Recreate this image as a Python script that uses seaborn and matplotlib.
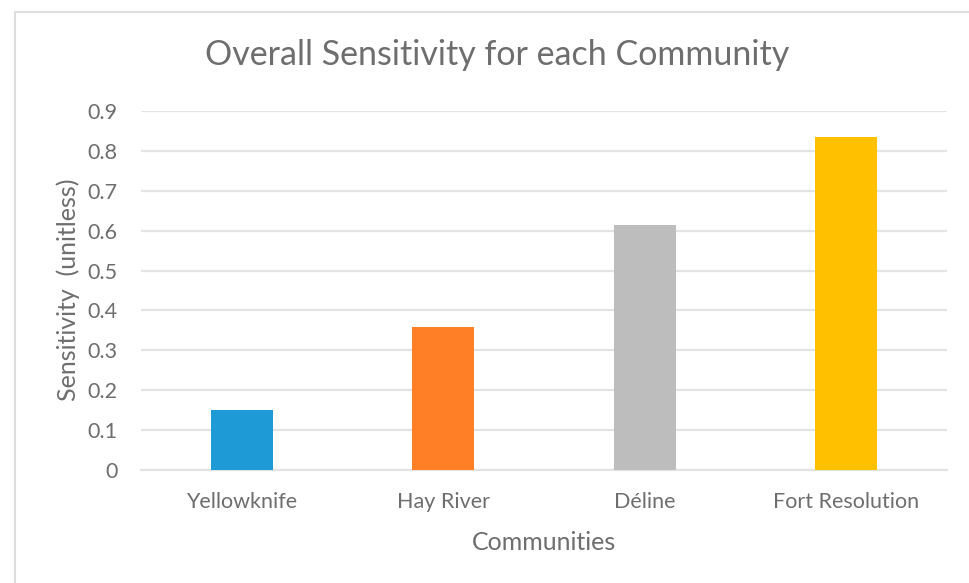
import matplotlib
matplotlib.use("Agg")
import matplotlib.pyplot as plt
from matplotlib.lines import Line2D
import seaborn as sns
import pandas as pd

communities = ["Yellowknife", "Hay River", "Déline", "Fort Resolution"]
sensitivity = [0.15, 0.358, 0.615, 0.835]
bar_colors = ["#1E9BD7", "#FF7F27", "#BDBDBD", "#FFC000"]
y_ticks = [0, 0.1, 0.2, 0.3, 0.4, 0.5, 0.6, 0.7, 0.8, 0.9]
y_tick_labels = ["0", "0.1", "0.2", "0.3", "0.4", "0.5", "0.6", "0.7", "0.8", "0.9"]

sns.set_theme(style="white")
plt.rcParams["font.family"] = ["Lato", "DejaVu Sans"]

text_color = "#6E6E6E"
grid_color = "#E3E3E3"

df = pd.DataFrame({"Community": communities, "Sensitivity": sensitivity})

W, H = 970, 583
fig = plt.figure(figsize=(W / 100, H / 100), dpi=100)
ax = fig.add_axes([141 / W, 1 - 470 / H, (947 - 141) / W, (470 - 111) / H])

sns.barplot(data=df, x="Community", y="Sensitivity", hue="Community",
            palette=bar_colors, width=0.31, legend=False, ax=ax,
            saturation=1, edgecolor="none", zorder=3)

ax.set_xlim(-0.5, len(communities) - 0.5)
ax.set_ylim(0, 0.9)
ax.set_yticks(y_ticks)
ax.set_yticklabels(y_tick_labels)
ax.yaxis.grid(True, color=grid_color, linewidth=1.6, zorder=0)
ax.xaxis.grid(False)
for side in ["top", "right", "left"]:
    ax.spines[side].set_visible(False)
ax.spines["bottom"].set_color(grid_color)
ax.spines["bottom"].set_linewidth(1.6)
ax.tick_params(axis="both", length=0, colors=text_color, labelsize=15.5)
ax.tick_params(axis="y", pad=17)
ax.tick_params(axis="x", pad=16)

ax.set_xlabel("Communities", color=text_color, fontsize=18, va="center")
ax.set_ylabel("Sensitivity  (unitless)", color=text_color, fontsize=18, va="center")
ax.xaxis.set_label_coords(0.5, (470 - 543) / 359)
ax.yaxis.set_label_coords((68 - 141) / 806, (470 - 290) / 359)

fig.text(497 / W, 1 - 55 / H, "Overall Sensitivity for each Community",
         ha="center", va="center", fontsize=24.5, color=text_color)

# outer chart frame (top and left edges)
fig.add_artist(Line2D([15 / W, 15 / W], [0, 1 - 12 / H], transform=fig.transFigure,
                      color="#DDDDDD", linewidth=1.5))
fig.add_artist(Line2D([15 / W, 1], [1 - 12 / H, 1 - 12 / H], transform=fig.transFigure,
                      color="#DDDDDD", linewidth=1.5))

fig.savefig("out.png", dpi=100, facecolor="white")
